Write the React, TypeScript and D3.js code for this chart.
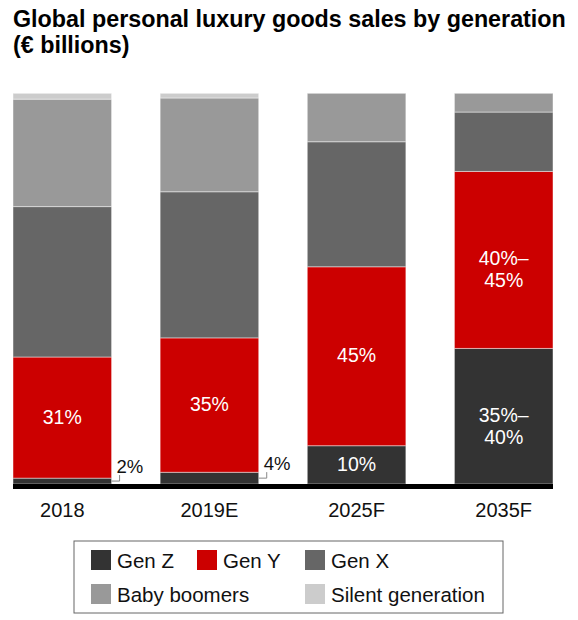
import * as d3 from "d3";

const WIDTH = 578;
const HEIGHT = 620;
const FONT = "'Liberation Sans', Arial, Helvetica, sans-serif";

// share of sales per generation, each bar adds up to 100
const categories = ["2018", "2019E", "2025F", "2035F"];
const genZ = [1.5, 3, 9.8, 34.7];
const genY = [31, 34.4, 45.8, 45.3];
const genX = [38.5, 37.4, 32, 15.2];
const babyBoomers = [27.5, 24, 12.4, 4.8];
const silent = [1.5, 1.2, 0, 0];

// printed labels
const genYLabels = [["31%"], ["35%"], ["45%"], ["40%–", "45%"]];
const genZLabels = [["2%"], ["4%"], ["10%"], ["35%–", "40%"]];
const outsideZ = [true, true, false, false];

const keys = ["Gen Z", "Gen Y", "Gen X", "Baby boomers", "Silent generation"];
const colors = ["#333333", "#cc0000", "#666666", "#999999", "#cccccc"];

const rows = categories.map((c, i) => ({
  category: c,
  "Gen Z": genZ[i],
  "Gen Y": genY[i],
  "Gen X": genX[i],
  "Baby boomers": babyBoomers[i],
  "Silent generation": silent[i],
}));

// legend slots: [column, row]
const legendSlots = [
  [0, 0],
  [1, 0],
  [2, 0],
  [0, 1],
  [2, 1],
];
const legendCols = [91, 197, 305];
const legendRows = [550, 584];

export default function App() {
  const xScale = d3
    .scaleBand()
    .domain(categories)
    .range([13, 553])
    .paddingInner(0.33)
    .paddingOuter(0);
  const yScale = d3.scaleLinear().domain([0, 100]).range([484, 93.3]);
  const color = d3.scaleOrdinal<string, string>().domain(keys).range(colors);

  const series = d3.stack<any>().keys(keys)(rows);
  const bw = xScale.bandwidth();

  const bars = series.map((s) => (
    <g key={s.key} fill={color(s.key)}>
      {s.map((d, i) => {
        const y0 = yScale(d[0]);
        const y1 = yScale(d[1]);
        if (y0 - y1 <= 0) return null;
        return (
          <rect
            key={i}
            x={xScale(categories[i])}
            y={y1}
            width={bw}
            height={y0 - y1}
            stroke="rgba(255,255,255,0.45)"
            strokeWidth={1}
          />
        );
      })}
    </g>
  ));

  const innerLabel = (lines: string[], cx: number, mid: number, key: string) => (
    <text
      key={key}
      x={cx}
      textAnchor="middle"
      fill="#ffffff"
      fontSize={19.5}
      fontFamily={FONT}
    >
      {lines.map((l, j) => (
        <tspan key={j} x={cx} y={mid + (lines.length > 1 ? 5.5 + j * 22 : 6)}>
          {l}
        </tspan>
      ))}
    </text>
  );

  const labels = categories.map((c, i) => {
    const x0 = xScale(c) as number;
    const cx = x0 + bw / 2;
    const out: any[] = [];
    // Gen Y
    const ySeg = series[1][i];
    out.push(innerLabel(genYLabels[i], cx, (yScale(ySeg[0]) + yScale(ySeg[1])) / 2, `y${i}`));
    // Gen Z
    const zSeg = series[0][i];
    const zMid = (yScale(zSeg[0]) + yScale(zSeg[1])) / 2;
    if (outsideZ[i]) {
      const hx = x0 + bw + 8;
      out.push(
        <g key={`z${i}`}>
          <path
            d={`M${x0 + bw},${zMid}H${hx}V${zMid - 6}`}
            fill="none"
            stroke="#888888"
            strokeWidth={1}
          />
          <text
            x={x0 + bw + 5}
            y={zMid - 8.5}
            fontSize={18.5}
            fontFamily={FONT}
            fill="#111111"
          >
            {genZLabels[i][0]}
          </text>
        </g>
      );
    } else {
      out.push(innerLabel(genZLabels[i], cx, zMid, `z${i}`));
    }
    return out;
  });

  const xLabels = categories.map((c) => (
    <text
      key={c}
      x={(xScale(c) as number) + bw / 2}
      y={517}
      textAnchor="middle"
      fontSize={20}
      fontFamily={FONT}
      fill="#111111"
    >
      {c}
    </text>
  ));

  const legend = keys.map((k, i) => {
    const [col, row] = legendSlots[i];
    const lx = legendCols[col];
    const ly = legendRows[row];
    return (
      <g key={k}>
        <rect x={lx} y={ly} width={20} height={20} fill={color(k)} />
        <text x={lx + 26} y={ly + 17.5} fontSize={20.5} fontFamily={FONT} fill="#111111">
          {k}
        </text>
      </g>
    );
  });

  return (
    <div style={{ position: "absolute", left: 0, top: 0 }}>
      <svg width={WIDTH} height={HEIGHT}>
        <rect width={WIDTH} height={HEIGHT} fill="#ffffff" />
        <text x={13} y={27} fontSize={23.3} fontWeight="bold" fontFamily={FONT} fill="#000">
          Global personal luxury goods sales by generation
        </text>
        <text x={13} y={53} fontSize={23.3} fontWeight="bold" fontFamily={FONT} fill="#000">
          (€ billions)
        </text>
        {bars}
        {labels}
        <rect x={13} y={484} width={540} height={5} fill="#000000" />
        {xLabels}
        <rect x={74} y={541} width={429} height={72} fill="none" stroke="#666666" strokeWidth={1} />
        {legend}
      </svg>
    </div>
  );
}
